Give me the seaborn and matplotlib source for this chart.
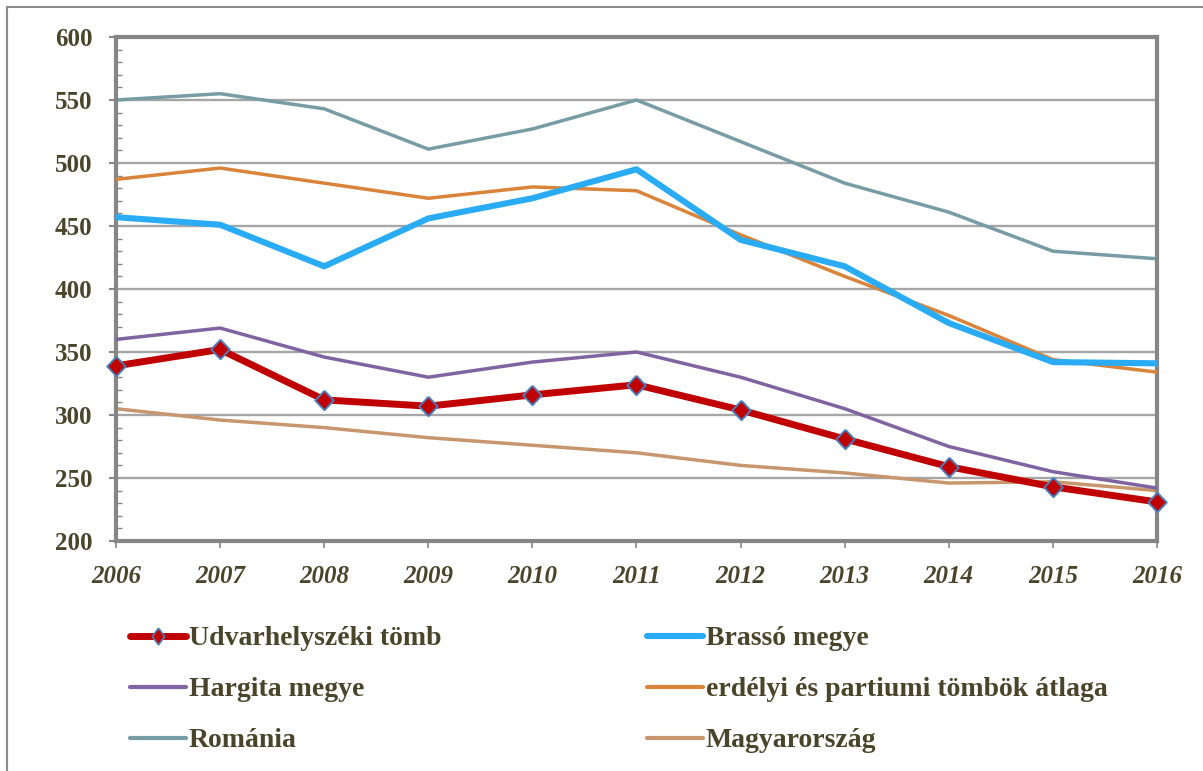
import matplotlib
matplotlib.use("Agg")
import matplotlib.pyplot as plt
from matplotlib.lines import Line2D
from matplotlib.patches import Rectangle
from matplotlib.ticker import MultipleLocator
import seaborn as sns

# data
years = [2006, 2007, 2008, 2009, 2010, 2011, 2012, 2013, 2014, 2015, 2016]
udvarhely = [339, 352, 312, 307, 316, 324, 304, 281, 259, 243, 231]
brasso = [457, 451, 418, 456, 472, 495, 439, 418, 373, 342, 341]
hargita = [360, 369, 346, 330, 342, 350, 330, 305, 275, 255, 242]
erdely_atlag = [487, 496, 484, 472, 481, 478, 443, 410, 379, 344, 334]
romania = [550, 555, 543, 511, 527, 550, 517, 484, 461, 430, 424]
magyarorszag = [305, 296, 290, 282, 276, 270, 260, 254, 246, 247, 240]

labels = ["Udvarhelyszéki tömb", "Brassó megye", "Hargita megye",
          "erdélyi és partiumi tömbök átlaga", "Románia", "Magyarország"]

TEXT = "#4a452a"
DIAMOND = [(0, 1), (0.95, 0), (0, -1), (-0.95, 0), (0, 1)]
DIAMOND_LEG = [(0, 1), (0.75, 0), (0, -1), (-0.75, 0), (0, 1)]

sns.set_style("white")
plt.rcParams["font.family"] = ["Liberation Serif", "DejaVu Serif"]
plt.rcParams["font.weight"] = "bold"

fig = plt.figure(figsize=(12.03, 7.71), dpi=100)
ax = fig.add_axes([116 / 1203, 1 - 541 / 771, (1157 - 116) / 1203, (541 - 37) / 771])

# thin outer frame (runs off the right/bottom edge like the source)
fig.patches.append(Rectangle((7 / 1203, -0.2), 1.2, 1.2 - 7 / 771,
                             transform=fig.transFigure, fill=False,
                             edgecolor="#8c8c8c", linewidth=1.5))

series = [
    (magyarorszag, "#c8966c", 2.5, 2),
    (romania, "#789ca4", 2.5, 2),
    (erdely_atlag, "#d9843a", 2.5, 3),
    (hargita, "#8064a2", 2.5, 3),
    (brasso, "#29abf5", 4.4, 4),
]
for vals, col, lw, z in series:
    sns.lineplot(x=years, y=vals, ax=ax, color=col, linewidth=lw, zorder=z)

sns.lineplot(x=years, y=udvarhely, ax=ax, color="#c00000", linewidth=5.0,
             marker=DIAMOND, markersize=14, markerfacecolor="#c00000",
             markeredgecolor="#4a7ebb", markeredgewidth=1.4, zorder=6, clip_on=False)

ax.set_xlim(2006, 2016)
ax.set_ylim(200, 600)
ax.set_xticks(years)
ax.set_xticklabels([str(y) for y in years], fontsize=18, style="italic",
                   fontweight="bold", color=TEXT)
ax.yaxis.set_major_locator(MultipleLocator(50))
ax.yaxis.set_minor_locator(MultipleLocator(10))
for t in ax.get_yticklabels():
    t.set_fontsize(18)
    t.set_color(TEXT)
    t.set_fontweight("bold")

ax.grid(axis="y", which="major", color="#a6a6a6", linewidth=1.7)
ax.set_axisbelow(True)
for s in ax.spines.values():
    s.set_color("#868686")
    s.set_linewidth(3.0)
    s.set_visible(True)

ax.tick_params(axis="y", which="major", direction="out", length=5, width=1.5,
               color="#868686", pad=12, left=True)
ax.tick_params(axis="y", which="minor", direction="in", length=4, width=1.0,
               color="#868686", left=True)
ax.tick_params(axis="x", which="major", direction="out", length=5, width=1.2,
               color="#868686", pad=12, bottom=True)
ax.set_xlabel("")
ax.set_ylabel("")

if ax.get_legend() is not None:
    ax.get_legend().remove()

def handle(col, lw, marker=False):
    if marker:
        return Line2D([], [], color=col, linewidth=lw, marker=DIAMOND_LEG,
                      markersize=12, markerfacecolor=col, markeredgecolor="#4a7ebb",
                      markeredgewidth=1.2)
    return Line2D([], [], color=col, linewidth=lw)

# legend entries in column-major order so rows read like the source
hnd = [handle("#c00000", 5.0, True), handle("#8064a2", 3.0), handle("#789ca4", 3.0),
       handle("#29abf5", 4.4), handle("#d9843a", 3.0), handle("#c8966c", 3.0)]
lab = [labels[0], labels[2], labels[4], labels[1], labels[3], labels[5]]
leg = fig.legend(hnd, lab, loc="upper left", bbox_to_anchor=(130 / 1203, 1 - 626 / 771),
                 ncol=2, frameon=False, fontsize=20, handlelength=2.0,
                 handletextpad=0.12, columnspacing=7.4, labelspacing=0.92,
                 borderpad=0, borderaxespad=0)
for t in leg.get_texts():
    t.set_color(TEXT)
    t.set_fontweight("bold")

fig.savefig("out.png", dpi=100)
